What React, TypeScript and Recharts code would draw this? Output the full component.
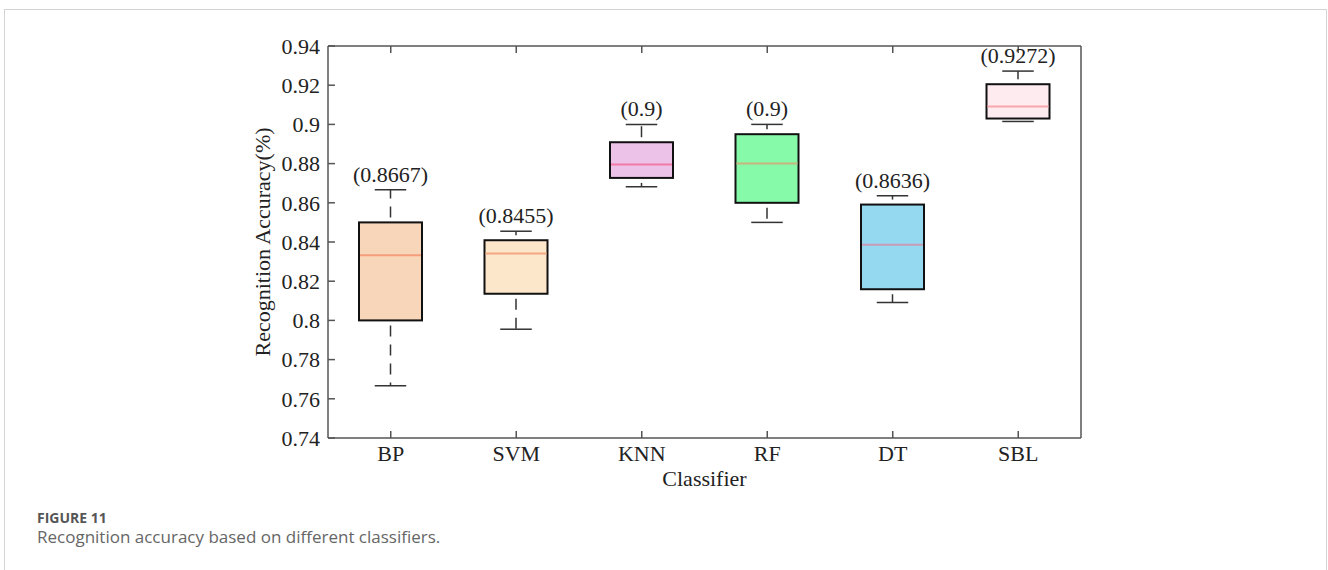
import { ComposedChart, Bar, XAxis, YAxis, LabelList } from "recharts";

// box plot values (recognition accuracy)
const classifiers = ["BP", "SVM", "KNN", "RF", "DT", "SBL"];
const whiskerLow = [0.7667, 0.7955, 0.8682, 0.85, 0.8091, 0.9015];
const quartile1 = [0.8, 0.8136, 0.8727, 0.86, 0.8159, 0.903];
const medians = [0.8333, 0.8341, 0.8795, 0.88, 0.8386, 0.9091];
const quartile3 = [0.85, 0.8409, 0.8909, 0.895, 0.8591, 0.9205];
const whiskerHigh = [0.8667, 0.8455, 0.9, 0.9, 0.8636, 0.9272];
const yTicks = [0.74, 0.76, 0.78, 0.8, 0.82, 0.84, 0.86, 0.88, 0.9, 0.92, 0.94];

const boxFills = ["#F8D6B9", "#FDE7CA", "#EDC2E9", "#86FAA9", "#95D9F1", "#FDEBF0"];
const medianColors = ["#F59E7C", "#F4A782", "#F27BA5", "#C9B47F", "#C99DB5", "#F9A5AC"];

const data = classifiers.map((name, i) => ({
  name,
  min: whiskerLow[i],
  q1: quartile1[i],
  median: medians[i],
  q3: quartile3[i],
  max: whiskerHigh[i],
}));

const serif = '"Liberation Serif", "Times New Roman", serif';
const axisColor = "#555";
const textColor = "#222";
const tickLen = 7;
const fmt = (v: number) => String(+v.toFixed(2));

// MATLAB-style ticks: drawn inward, labels outside
function LeftTick({ x, y, payload }: any) {
  const ax = x + 8;
  return (
    <g>
      <line x1={ax} x2={ax + tickLen} y1={y} y2={y} stroke={axisColor} strokeWidth={1.5} />
      <text x={x} y={y} dy="0.355em" textAnchor="end" fill={textColor} fontSize={22} fontFamily={serif}>
        {fmt(payload.value)}
      </text>
    </g>
  );
}

function BottomTick({ x, y, payload }: any) {
  const ay = y - 7;
  return (
    <g>
      <line x1={x} x2={x} y1={ay} y2={ay - tickLen} stroke={axisColor} strokeWidth={1.5} />
      <text x={x} y={y} dy="0.71em" textAnchor="middle" fill={textColor} fontSize={22} fontFamily={serif}>
        {payload.value}
      </text>
    </g>
  );
}

function TopTick({ x, y }: any) {
  return <line x1={x} x2={x} y1={y} y2={y + tickLen} stroke={axisColor} strokeWidth={1.5} />;
}

function RightTick({ x, y }: any) {
  return <line x1={x - tickLen} x2={x} y1={y} y2={y} stroke={axisColor} strokeWidth={1.5} />;
}

function BoxShape(props: any) {
  const { x, y, width, height, payload } = props;
  const { min, max, q1, median, q3, name } = payload;
  const i = classifiers.indexOf(name);
  const top = Math.min(y, y + height);
  const bottom = Math.max(y, y + height);
  const toY = (v: number) => bottom - ((v - min) / (max - min)) * (bottom - top);
  const cx = x + width / 2;
  const cap = width / 4;
  const yQ1 = toY(q1);
  const yQ3 = toY(q3);
  const yMed = toY(median);
  return (
    <g>
      <line x1={cx} x2={cx} y1={yQ3} y2={top} stroke="#333" strokeWidth={1.5}
        strokeDasharray="11 8" strokeDashoffset={14} />
      <line x1={cx} x2={cx} y1={yQ1} y2={bottom} stroke="#333" strokeWidth={1.5}
        strokeDasharray="11 8" strokeDashoffset={14} />
      <line x1={cx - cap} x2={cx + cap} y1={top} y2={top} stroke="#333" strokeWidth={1.5} />
      <line x1={cx - cap} x2={cx + cap} y1={bottom} y2={bottom} stroke="#333" strokeWidth={1.5} />
      <rect x={x} y={yQ3} width={width} height={yQ1 - yQ3} fill={boxFills[i]}
        stroke="#111" strokeWidth={2} />
      <line x1={x + 1} x2={x + width - 1} y1={yMed} y2={yMed} stroke={medianColors[i]} strokeWidth={2} />
    </g>
  );
}

export default function App() {
  return (
    <div style={{ position: "fixed", left: 0, top: 0, width: 1328, height: 570, overflow: "hidden", background: "#fff" }}>
      <div
        style={{
          position: "absolute",
          left: 4,
          top: 9,
          width: 1323,
          height: 561,
          boxSizing: "border-box",
          border: "1px solid #d4d4d4",
          borderBottom: "none",
        }}
      />
      <div style={{ position: "absolute", left: 0, top: 0 }}>
        <ComposedChart
          width={1328}
          height={570}
          data={data}
          margin={{ top: 45, right: 246, bottom: 84, left: 196 }}
        >
          <XAxis
            dataKey="name"
            stroke={axisColor}
            strokeWidth={1.5}
            tickLine={false}
            tickSize={0}
            tickMargin={7}
            tick={<BottomTick />}
            height={48}
            label={{ value: "Classifier", position: "insideBottom", offset: 0, fill: textColor, fontSize: 22, fontFamily: serif }}
          />
          <XAxis
            xAxisId="top"
            dataKey="name"
            orientation="top"
            tickLine={false}
            tickSize={0}
            tickMargin={0}
            interval={0}
            tick={<TopTick />}
            height={1}
            stroke={axisColor}
            strokeWidth={1.5}
          />
          <YAxis
            domain={[0.74, 0.94]}
            ticks={yTicks}
            stroke={axisColor}
            strokeWidth={1.5}
            tickLine={false}
            tickSize={0}
            tickMargin={8}
            tick={<LeftTick />}
            width={132}
            label={{ value: "Recognition Accuracy(%)", angle: -90, position: "center", fill: textColor, fontSize: 22, fontFamily: serif }}
          />
          <YAxis
            yAxisId="right"
            orientation="right"
            domain={[0.74, 0.94]}
            ticks={yTicks}
            tickLine={false}
            tickSize={0}
            tickMargin={0}
            interval={0}
            tick={<RightTick />}
            width={1}
            stroke={axisColor}
            strokeWidth={1.5}
          />
          <Bar
            dataKey={(d: any) => [d.min, d.max]}
            barSize={63}
            shape={BoxShape}
            isAnimationActive={false}
          >
            <LabelList
              dataKey="max"
              position="top"
              offset={8}
              formatter={(v: any) => `(${v})`}
              fill={textColor}
              fontSize={22}
              fontFamily={serif}
            />
          </Bar>
        </ComposedChart>
      </div>
      <div
        style={{
          position: "absolute",
          left: 37,
          top: 511,
          fontFamily: '"Open Sans", sans-serif',
          fontWeight: 700,
          fontSize: 14,
          lineHeight: "14px",
          color: "#555",
        }}
      >
        FIGURE 11
      </div>
      <div
        style={{
          position: "absolute",
          left: 37,
          top: 528,
          fontFamily: '"Open Sans", sans-serif',
          fontSize: 17,
          lineHeight: "17px",
          color: "#666",
        }}
      >
        Recognition accuracy based on different classifiers.
      </div>
    </div>
  );
}
